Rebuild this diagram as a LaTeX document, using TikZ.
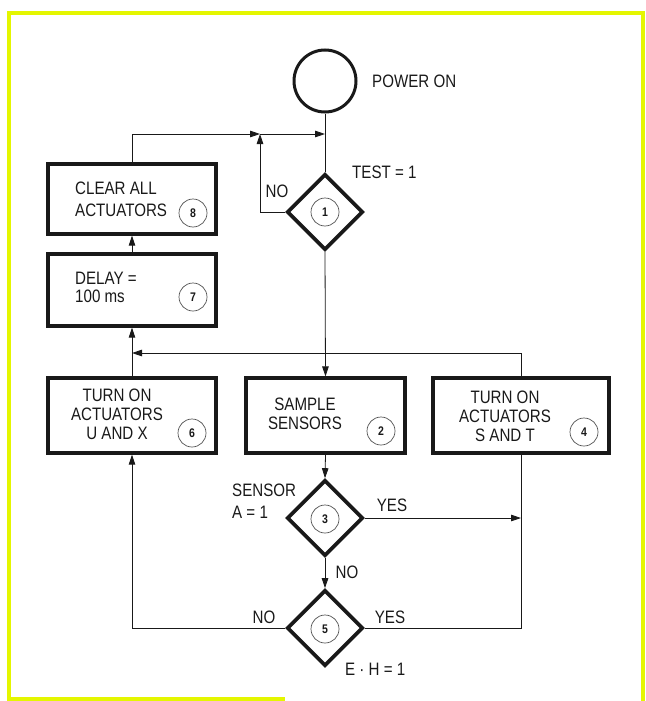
\documentclass[tikz,border=0pt]{standalone}
\usepackage{fontspec}
\setmainfont{Liberation Sans}[FakeStretch=0.84]
\usetikzlibrary{shapes.geometric,arrows.meta}
\definecolor{frameyellow}{RGB}{228,246,0}
\definecolor{ink}{RGB}{25,25,25}
\tikzset{
  line/.style={draw=ink, line width=0.8pt},
  arr/.style={line, -{Triangle[length=10pt,width=6.5pt]}},
  box/.style={draw=ink, line width=3.2pt, minimum width=168pt, minimum height=72pt, inner sep=0pt},
  dec/.style={draw=ink, diamond, line width=3.6pt, minimum size=76pt, inner sep=0pt},
  num/.style={circle, draw=ink!75, line width=0.7pt, minimum size=28pt, inner sep=0pt,
    font=\fontsize{12.5}{12.5}\selectfont\bfseries, text=ink},
  txt/.style={text=ink, font=\fontsize{18}{20}\selectfont, inner sep=0pt},
}
\begin{document}
\begin{tikzpicture}[x=1pt, y=-1pt]
\useasboundingbox (0,0) rectangle (645,701);

% Frame
\draw[frameyellow, line width=4pt] (285,699) -- (9,699) -- (9,13) -- (643,13) -- (643,701);

% Start
\node[circle, draw=ink, line width=3pt, minimum size=62pt, inner sep=0pt] (pwr) at (325,81) {};
\node[txt, anchor=west] (pwrlbl) at (372,81) {POWER ON};

% Decisions
\node[dec] (d1) at (325,212) {};
\node[dec] (d3) at (325,518) {};
\node[dec] (d5) at (325,628) {};
\node[num] (n1) at (325,212) {1};
\node[num] (n3) at (325,519) {3};
\node[num] (n5) at (325,629) {5};

% Boxes
\node[box, minimum height=70pt] (b8) at (132,199) {};
\node[box] (b7) at (132,290) {};
\node[box, minimum height=75pt] (b6) at (132,415.5) {};
\node[box, minimum width=159pt, minimum height=75pt] (b2) at (325.5,415.5) {};
\node[box, minimum width=176pt, minimum height=75pt] (b4) at (521,415.5) {};

% Box texts
\node[txt, anchor=west, align=left, font=\fontsize{18}{22}\selectfont] (t8) at (75,199) {CLEAR ALL\\ACTUATORS};
\node[txt, anchor=west, align=left, font=\fontsize{18}{18}\selectfont] (t7) at (75,287) {DELAY =\\100 ms};
\node[txt, align=center, font=\fontsize{18}{19}\selectfont] (t6) at (117,414) {TURN ON\\ACTUATORS\\U AND X};
\node[txt, align=center, font=\fontsize{18}{19}\selectfont] (t2) at (305,414) {SAMPLE\\SENSORS};
\node[txt, align=center, font=\fontsize{18}{19}\selectfont] (t4) at (505,416) {TURN ON\\ACTUATORS\\S AND T};
\node[num] (n8) at (193,213) {8};
\node[num] (n7) at (193,297) {7};
\node[num] (n6) at (192,433) {6};
\node[num] (n2) at (381,431) {2};
\node[num] (n4) at (584,432) {4};

% Condition labels
\node[txt, anchor=west] (test) at (352,172) {TEST = 1};
\node[txt, anchor=west, align=left, font=\fontsize{18}{22}\selectfont] (sens) at (232,501) {SENSOR\\A = 1};
\node[txt, anchor=west] (eh) at (345,669) {E · H = 1};
\node[txt] (no1) at (277,191) {NO};
\node[txt] (yes3) at (392,505) {YES};
\node[txt] (no3) at (347,572) {NO};
\node[txt] (no5) at (264,617) {NO};
\node[txt] (yes5) at (390,617) {YES};

% Junctions
\coordinate (j1) at (132,353);
\coordinate (j2) at (260,134);
\coordinate (j3) at (325,134);
\coordinate (j4) at (b4.south |- d3.east);

% Connectors
\draw[line] (pwr.south) -- (d1.north);
\draw[arr] (b8.north) |- (j2);
\draw[arr] (d1.west) -| (j2);
\draw[arr] (j2) -- (j3);
\draw[arr] (d1.south) -- (b2.north);
\draw[arr] (b2.south) -- (d3.north);
\draw[arr] (d3.south) -- (d5.north);
\draw[arr] (d3.east) -- (j4);
\draw[line] (b4.south) |- (d5.east);
\draw[arr] (d5.west) -| (b6.south);
\draw[arr] (b4.north) |- (j1);
\draw[line] (b6.north) -- (j1);
\draw[arr] (j1) -- (b7.south);
\draw[arr] (b7.north) -- (b8.south);

\end{tikzpicture}
\end{document}
